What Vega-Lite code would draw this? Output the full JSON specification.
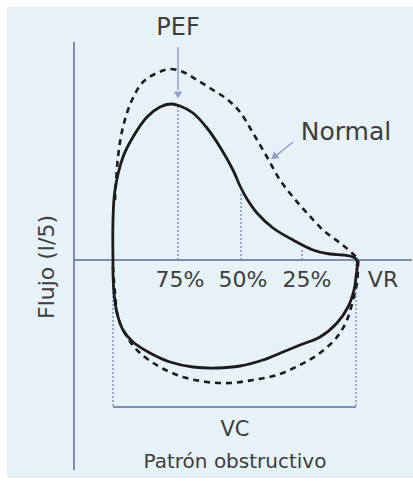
{
  "$schema": "https://vega.github.io/schema/vega-lite/v6.json",
  "width": 413,
  "height": 482,
  "autosize": {"type": "fit", "contains": "padding"},
  "padding": {"left": 7, "top": 7, "right": 0, "bottom": 4},
  "background": "white",
  "config": {"view": {"fill": "#e7f2f8", "stroke": null}},
  "datasets": {
    "obst": [
      {"i":0,"x":39,"y":0},{"i":1,"x":39,"y":40},{"i":2,"x":41,"y":70},{"i":3,"x":49,"y":103},{"i":4,"x":59,"y":123},{"i":5,"x":73,"y":143},{"i":6,"x":86,"y":153},{"i":7,"x":97,"y":156},{"i":8,"x":106,"y":154},{"i":9,"x":119,"y":147},{"i":10,"x":133,"y":132},{"i":11,"x":146,"y":113},{"i":12,"x":159,"y":90},{"i":13,"x":166,"y":74},{"i":14,"x":173,"y":61},{"i":15,"x":183,"y":47},{"i":16,"x":199,"y":32},{"i":17,"x":219,"y":20},{"i":18,"x":239,"y":10},{"i":19,"x":256,"y":6},{"i":20,"x":269,"y":5},{"i":21,"x":279,"y":3},{"i":22,"x":283,"y":0},
      {"i":23,"x":282,"y":-17},{"i":24,"x":280,"y":-30},{"i":25,"x":274,"y":-47},{"i":26,"x":263,"y":-63},{"i":27,"x":246,"y":-77},{"i":28,"x":226,"y":-85},{"i":29,"x":209,"y":-92},{"i":30,"x":189,"y":-100},{"i":31,"x":166,"y":-106},{"i":32,"x":143,"y":-108},{"i":33,"x":119,"y":-107},{"i":34,"x":96,"y":-102},{"i":35,"x":76,"y":-93},{"i":36,"x":59,"y":-82},{"i":37,"x":49,"y":-70},{"i":38,"x":43,"y":-53},{"i":39,"x":40,"y":-33},{"i":40,"x":39,"y":-13},{"i":41,"x":39,"y":0}
    ],
    "normal": [
      {"i":0,"x":41,"y":60},{"i":1,"x":44,"y":103},{"i":2,"x":49,"y":133},{"i":3,"x":58,"y":160},{"i":4,"x":69,"y":178},{"i":5,"x":83,"y":187},{"i":6,"x":96,"y":191},{"i":7,"x":109,"y":188},{"i":8,"x":123,"y":180},{"i":9,"x":139,"y":170},{"i":10,"x":154,"y":160},{"i":11,"x":166,"y":148},{"i":12,"x":179,"y":127},{"i":13,"x":193,"y":103},{"i":14,"x":206,"y":80},{"i":15,"x":219,"y":63},{"i":16,"x":233,"y":47},{"i":17,"x":249,"y":30},{"i":18,"x":266,"y":17},{"i":19,"x":278,"y":7},{"i":20,"x":284,"y":0},
      {"i":21,"x":284,"y":-5},{"i":22,"x":283,"y":-23},{"i":23,"x":279,"y":-40},{"i":24,"x":273,"y":-60},{"i":25,"x":263,"y":-77},{"i":26,"x":246,"y":-93},{"i":27,"x":226,"y":-105},{"i":28,"x":203,"y":-115},{"i":29,"x":179,"y":-120},{"i":30,"x":156,"y":-123},{"i":31,"x":133,"y":-122},{"i":32,"x":109,"y":-117},{"i":33,"x":86,"y":-107},{"i":34,"x":66,"y":-93},{"i":35,"x":53,"y":-77},{"i":36,"x":44,"y":-57},{"i":37,"x":41,"y":-33},{"i":38,"x":39,"y":-7}
    ],
    "axes": [
      {"x":0,"x2":0,"y":-210,"y2":218},
      {"x":0,"x2":338,"y":0,"y2":0},
      {"x":39,"x2":282,"y":-147,"y2":-147}
    ],
    "dotted": [
      {"x":104,"y":0,"y2":155},
      {"x":167,"y":0,"y2":66},
      {"x":228,"y":0,"y2":10},
      {"x":39,"y":0,"y2":-147},
      {"x":282,"y":0,"y2":-147}
    ],
    "arrows": [
      {"x":104,"x2":104,"y":213,"y2":170},
      {"x":219,"x2":203,"y":118,"y2":105}
    ],
    "heads": [
      {"x":104,"y":165,"angle":180},
      {"x":200,"y":103,"angle":231}
    ],
    "labels": [
      {"t":"PEF","x":104,"y":232,"size":24},
      {"t":"Normal","x":272,"y":128,"size":25},
      {"t":"75%","x":106,"y":-20,"size":22},
      {"t":"50%","x":169,"y":-20,"size":22},
      {"t":"25%","x":233,"y":-20,"size":22},
      {"t":"VR","x":309,"y":-20,"size":22},
      {"t":"VC","x":161,"y":-170,"size":21},
      {"t":"Patrón obstructivo","x":161,"y":-202,"size":20}
    ]
  },
  "layer": [
    {
      "data": {"name": "axes"},
      "mark": {"type": "rule", "color": "#5b6a98", "strokeWidth": 1.5},
      "encoding": {
        "x": {"field": "x", "type": "quantitative", "scale": {"domain": [-67, 339], "nice": false, "zero": false}, "axis": null},
        "x2": {"field": "x2"},
        "y": {"field": "y", "type": "quantitative", "scale": {"domain": [-218, 253], "nice": false, "zero": false}, "axis": null},
        "y2": {"field": "y2"}
      }
    },
    {
      "data": {"name": "dotted"},
      "mark": {"type": "rule", "color": "#6a78a8", "strokeWidth": 1.2, "strokeDash": [2, 2]},
      "encoding": {
        "x": {"field": "x", "type": "quantitative"},
        "y": {"field": "y", "type": "quantitative"},
        "y2": {"field": "y2"}
      }
    },
    {
      "data": {"name": "arrows"},
      "mark": {"type": "rule", "color": "#8f9dc9", "strokeWidth": 1.5},
      "encoding": {
        "x": {"field": "x", "type": "quantitative"},
        "x2": {"field": "x2"},
        "y": {"field": "y", "type": "quantitative"},
        "y2": {"field": "y2"}
      }
    },
    {
      "data": {"name": "heads"},
      "mark": {"type": "point", "shape": "triangle-up", "filled": true, "color": "#8f9dc9", "size": 70, "opacity": 1},
      "encoding": {
        "x": {"field": "x", "type": "quantitative"},
        "y": {"field": "y", "type": "quantitative"},
        "angle": {"field": "angle", "type": "quantitative", "scale": null}
      }
    },
    {
      "data": {"name": "normal"},
      "mark": {"type": "line", "color": "#1c1c1c", "strokeWidth": 2.6, "strokeDash": [6, 5], "interpolate": "catmull-rom"},
      "encoding": {
        "x": {"field": "x", "type": "quantitative"},
        "y": {"field": "y", "type": "quantitative"},
        "order": {"field": "i", "type": "quantitative"}
      }
    },
    {
      "data": {"name": "obst"},
      "mark": {"type": "line", "color": "#1c1c1c", "strokeWidth": 2.8, "interpolate": "catmull-rom"},
      "encoding": {
        "x": {"field": "x", "type": "quantitative"},
        "y": {"field": "y", "type": "quantitative"},
        "order": {"field": "i", "type": "quantitative"}
      }
    },
    {
      "data": {"name": "labels"},
      "mark": {"type": "text", "font": "DejaVu Sans", "color": "#3d3d3d", "align": "center", "baseline": "middle"},
      "encoding": {
        "x": {"field": "x", "type": "quantitative"},
        "y": {"field": "y", "type": "quantitative"},
        "text": {"field": "t"},
        "size": {"field": "size", "type": "quantitative", "scale": null}
      }
    },
    {
      "data": {"values": [{"t": "Flujo (l/5)", "x": -27, "y": -7}]},
      "mark": {"type": "text", "font": "DejaVu Sans", "color": "#3d3d3d", "align": "center", "baseline": "middle", "angle": 270, "fontSize": 22},
      "encoding": {
        "x": {"field": "x", "type": "quantitative"},
        "y": {"field": "y", "type": "quantitative"},
        "text": {"field": "t"}
      }
    }
  ]
}
